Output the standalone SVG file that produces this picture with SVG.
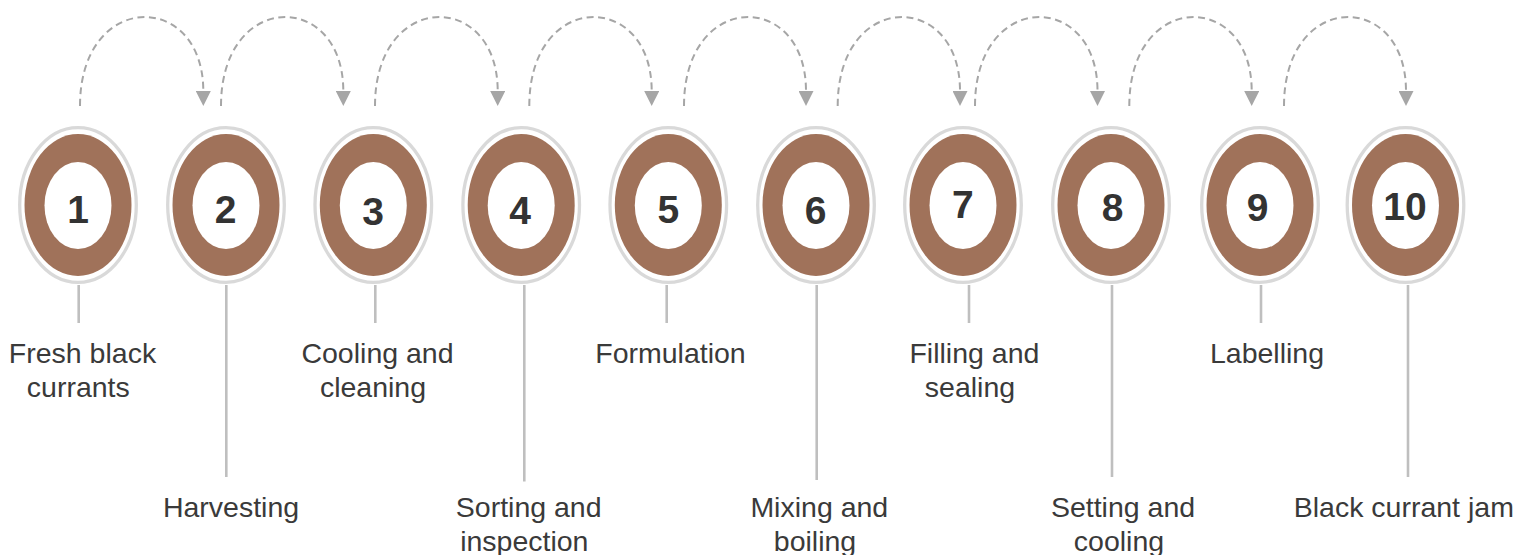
<svg xmlns="http://www.w3.org/2000/svg" width="1520" height="555" viewBox="0 0 1520 555">
  <style>
    .ring { fill: #ffffff; stroke: #d9d9d9; stroke-width: 3.3; }
    .band { fill: #a0725a; }
    .hole { fill: #ffffff; }
    .num { font-family: "Liberation Sans", Arial, sans-serif; font-weight: bold; font-size: 39px; fill: #333333; text-anchor: middle; }
    .lbl { font-family: "Liberation Sans", Arial, sans-serif; font-size: 28.5px; fill: #3a3a3a; text-anchor: middle; }
    .stem { stroke: #bfbfbf; stroke-width: 2.6; fill: none; }
    .hop { stroke: #a6a6a6; stroke-width: 2; fill: none; stroke-dasharray: 7 4.5; marker-end: url(#tip); }
  </style>
  <defs>
    <marker id="tip" markerUnits="userSpaceOnUse" markerWidth="15" markerHeight="15" refX="0" refY="7.5" orient="auto" viewBox="0 0 15 15">
      <path d="M0,0 L15,7.5 L0,15 Z" fill="#a6a6a6"/>
    </marker>
    <g id="disc">
      <ellipse class="ring" cx="0" cy="0" rx="58.3" ry="77.3"/>
      <ellipse class="band" cx="0" cy="0" rx="53.5" ry="71"/>
      <ellipse class="hole" cx="0" cy="0.5" rx="33.5" ry="43.5"/>
    </g>
  </defs>

  <!-- dashed hops between consecutive steps, stems down to the labels -->
  <g id="connectors">
    <path class="hop" d="M80,106 C80,-10 203.3,-10 203.3,91"/>
    <path class="hop" d="M221,106 C221,-10 343.3,-10 343.3,91"/>
    <path class="hop" d="M375,106 C375,-10 497.7,-10 497.7,91"/>
    <path class="hop" d="M529.3,106 C529.3,-10 651.7,-10 651.7,91"/>
    <path class="hop" d="M684,106 C684,-10 806,-10 806,91"/>
    <path class="hop" d="M837.7,106 C837.7,-10 960,-10 960,91"/>
    <path class="hop" d="M975,106 C975,-10 1097.5,-10 1097.5,91"/>
    <path class="hop" d="M1129.3,106 C1129.3,-10 1251.7,-10 1251.7,91"/>
    <path class="hop" d="M1284,106 C1284,-10 1406,-10 1406,91"/>

    <line class="stem" x1="78.7" y1="285" x2="78.7" y2="323"/>
    <line class="stem" x1="226.3" y1="285" x2="226.3" y2="477"/>
    <line class="stem" x1="375.3" y1="285" x2="375.3" y2="323"/>
    <line class="stem" x1="524.3" y1="285" x2="524.3" y2="481.5"/>
    <line class="stem" x1="666.7" y1="285" x2="666.7" y2="323"/>
    <line class="stem" x1="816.7" y1="285" x2="816.7" y2="480"/>
    <line class="stem" x1="969" y1="285" x2="969" y2="323"/>
    <line class="stem" x1="1112" y1="285" x2="1112" y2="477"/>
    <line class="stem" x1="1261" y1="285" x2="1261" y2="323"/>
    <line class="stem" x1="1408" y1="285" x2="1408" y2="477"/>
  </g>

  <g id="step1">
    <use href="#disc" x="78" y="205"/>
    <text class="num" x="78" y="223">1</text>
    <text class="lbl" x="82.5" y="363">Fresh black</text>
    <text class="lbl" x="78.3" y="397">currants</text>
  </g>
  <g id="step2">
    <use href="#disc" x="226" y="205"/>
    <text class="num" x="225.5" y="223">2</text>
    <text class="lbl" x="231" y="517">Harvesting</text>
  </g>
  <g id="step3">
    <use href="#disc" x="373.3" y="205"/>
    <text class="num" x="373" y="225">3</text>
    <text class="lbl" x="377.5" y="363">Cooling and</text>
    <text class="lbl" x="373" y="397">cleaning</text>
  </g>
  <g id="step4">
    <use href="#disc" x="521.2" y="205"/>
    <text class="num" x="520" y="224">4</text>
    <text class="lbl" x="528.7" y="517">Sorting and</text>
    <text class="lbl" x="524.3" y="551">inspection</text>
  </g>
  <g id="step5">
    <use href="#disc" x="668.3" y="205"/>
    <text class="num" x="668.3" y="223">5</text>
    <text class="lbl" x="670.5" y="363">Formulation</text>
  </g>
  <g id="step6">
    <use href="#disc" x="816" y="205"/>
    <text class="num" x="815.5" y="224">6</text>
    <text class="lbl" x="819.3" y="517">Mixing and</text>
    <text class="lbl" x="815" y="551">boiling</text>
  </g>
  <g id="step7">
    <use href="#disc" x="963" y="205"/>
    <text class="num" x="962.8" y="218">7</text>
    <text class="lbl" x="974.4" y="363">Filling and</text>
    <text class="lbl" x="970" y="397">sealing</text>
  </g>
  <g id="step8">
    <use href="#disc" x="1111" y="205"/>
    <text class="num" x="1112.5" y="221">8</text>
    <text class="lbl" x="1123" y="517">Setting and</text>
    <text class="lbl" x="1119" y="551">cooling</text>
  </g>
  <g id="step9">
    <use href="#disc" x="1260" y="205"/>
    <text class="num" x="1257.5" y="221">9</text>
    <text class="lbl" x="1267" y="363">Labelling</text>
  </g>
  <g id="step10">
    <use href="#disc" x="1405.5" y="205"/>
    <text class="num" x="1405" y="220">10</text>
    <text class="lbl" x="1403.8" y="517">Black currant jam</text>
  </g>
</svg>
